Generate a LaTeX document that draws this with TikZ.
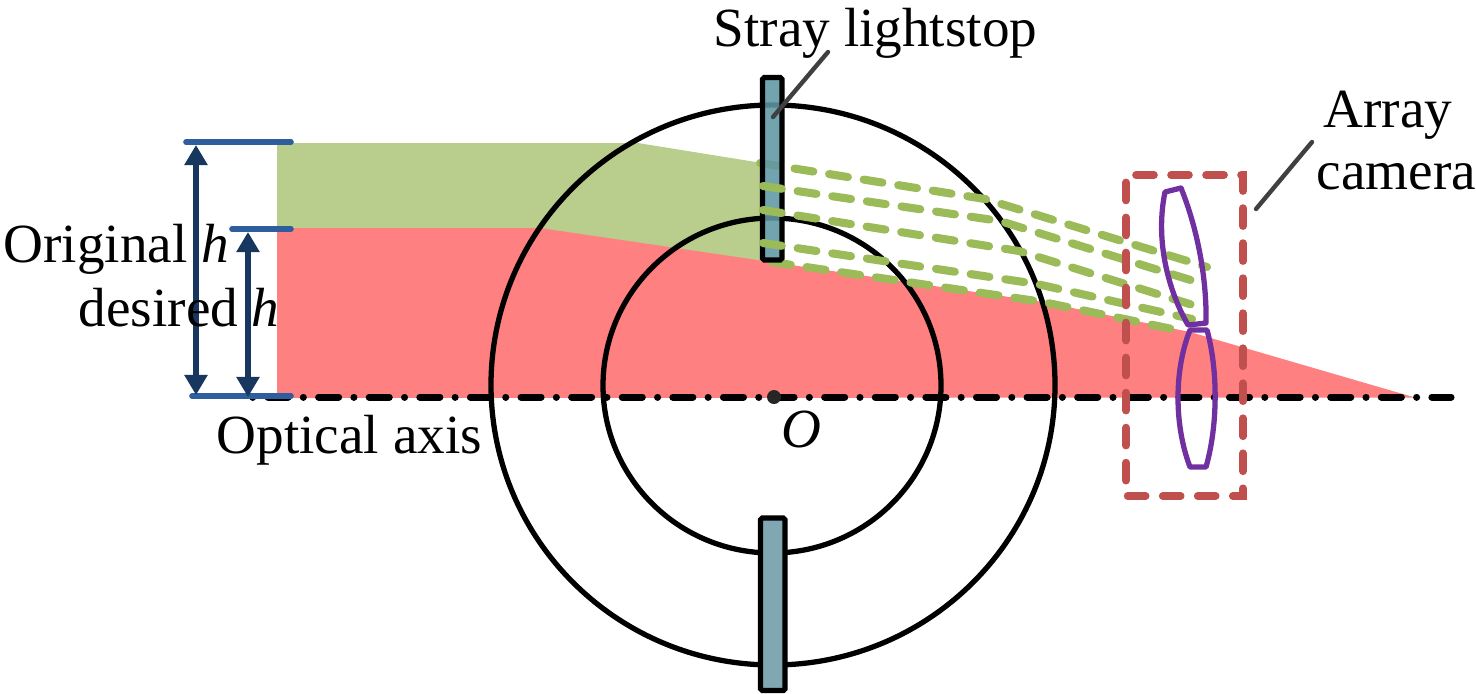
\documentclass[tikz,border=0pt]{standalone}
\usepackage{fontspec}
\setmainfont{Liberation Serif}
\definecolor{leafgreen}{HTML}{B9CE8D}
\definecolor{raygreen}{HTML}{9BBB59}
\definecolor{beamred}{HTML}{FF8080}
\definecolor{stopblue}{HTML}{5F97A5}
\definecolor{stoplight}{HTML}{7FA8B2}
\definecolor{framered}{HTML}{C0504D}
\definecolor{lenspurple}{HTML}{7030A0}
\definecolor{navy}{HTML}{17375E}
\definecolor{tickblue}{HTML}{2E5E9E}
\definecolor{leader}{HTML}{404040}
\usetikzlibrary{arrows.meta}
\tikzset{
  lbl/.style={font=\fontsize{15.7pt}{18pt}\selectfont,inner sep=0pt,text=black,anchor=base west},
  ray/.style={raygreen,line width=2.3pt,line cap=round,dash pattern=on 5.4pt off 4.55pt},
  ring/.style={black,line width=1.5pt},
  tick/.style={tickblue,line width=1.6pt,line cap=round},
  dim/.style={navy,line width=1.45pt,{Triangle[length=5.7pt,width=6.3pt]}-{Triangle[length=5.7pt,width=6.3pt]}},
  lens/.style={lenspurple,line width=1.5pt,line join=round},
  stopbar/.style={draw=black,line width=1.5pt,rounded corners=0.5pt},
  pointer/.style={leader,line width=1.25pt,line cap=round}
}
\begin{document}
\begin{tikzpicture}[x=0.01cm,y=-0.01cm]
    \useasboundingbox (0,0) rectangle (1476,693);
    % Beams
    \fill[leafgreen] (277,143) -- (638,143) -- (762,163) -- (762,262) -- (540,230) -- (277,230) -- cycle;
    \fill[beamred] (277,228) -- (540,228) -- (1043,302) -- (1190,332) -- (1415,397.5) -- (277,398) -- cycle;
    % Rings
    \draw[ring] (773,385) ellipse (282 and 280);
    \draw[ring] (772,385.5) ellipse (169 and 167.5);
    % Optical axis
    \draw[black,line width=2pt,line cap=round,dash pattern=on 0.01pt off 4.34pt on 5.7pt off 4.34pt] (252.7,397) -- (1451,397);
    % Rays behind the stop
    \draw[ray] (760,163) -- (985,199) -- (1207,267);
    \draw[ray] (772,262) -- (1043,302) -- (1177,330);
    % Stops
    \draw[stopbar,fill=stopblue,fill opacity=0.88] (762.5,77.5) rectangle (782,260);
    \draw[stopbar,fill=stoplight] (760.5,518) rectangle (785,690.5);
    \fill[black!85] (774,397) circle (7);
    % Rays in front of the stop
    \draw[ray] (763,186) -- (1000,221) -- (1197,282);
    \draw[ray] (763,210) -- (1019,251) -- (1196,306);
    \draw[ray] (763,243) -- (1037,284) -- (1192,319);
    % Array camera
    \draw[framered,line width=2.2pt,line cap=round,dash pattern=on 5.1pt off 4.86pt] (1136,175) -- (1243,175) -- (1243,496) -- (1126,496) -- (1126,175);
    \draw[lens] (1165,192) -- (1181,188) .. controls (1196,225) and (1207,275) .. (1206,323) -- (1188,325) .. controls (1168,290) and (1155,240) .. (1165,192) -- cycle;
    \draw[lens] (1190,330) -- (1207,330) .. controls (1218,370) and (1218,425) .. (1206,467) -- (1190,467) .. controls (1174,425) and (1174,370) .. (1190,330) -- cycle;
    % Leaders
    \coordinate (stoptip) at (773,117);
    \coordinate (stopend) at (828,52);
    \draw[pointer] (stoptip) -- (stopend);
    \coordinate (camtip) at (1256,209);
    \coordinate (camend) at (1312,142);
    \draw[pointer] (camtip) -- (camend);
    % Dimension marks
    \draw[tick] (186,142) -- (291,142);
    \draw[tick] (232,229) -- (291,229);
    \draw[tick] (192,396) -- (291,396);
    \draw[dim] (196,145) -- (196,395);
    \draw[dim] (248,232) -- (248,397);
    % Labels
    \node[lbl] (stray) at (713,46) {Stray lightstop};
    \node[lbl] (array) at (1323,127) {Array};
    \node[lbl] (camera) at (1316,189) {camera};
    \node[lbl] (original) at (3,262) {Original \textit{h}};
    \node[lbl] (desired) at (78,326) {desired \textit{h}};
    \node[lbl] (axis) at (216,453) {Optical axis};
    \node[lbl] (origin) at (781,447) {\textit{O}};
\end{tikzpicture}
\end{document}
